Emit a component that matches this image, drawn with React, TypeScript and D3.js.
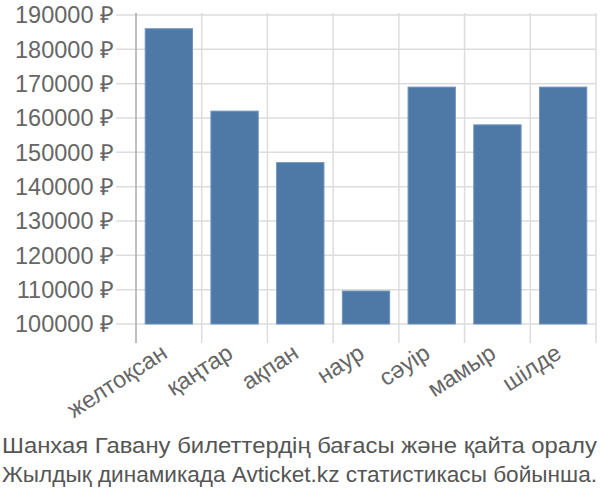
import React from "react";
import * as d3 from "d3";

const categories = ["желтоқсан", "қаңтар", "ақпан", "наур", "сәуір", "мамыр", "шілде"];
const values = [186000, 162000, 147000, 109600, 169000, 158000, 169000];
const yTicks = [100000, 110000, 120000, 130000, 140000, 150000, 160000, 170000, 180000, 190000];
const titleLines = [
  "Шанхая Гавану билеттердің бағасы және қайта оралу",
  "Жылдық динамикада Avticket.kz статистикасы бойынша.",
];

export default function App() {
  const W = 600, H = 500;
  const left = 136, right = 596, top = 15, bottom = 324;
  const x = d3.scaleBand<string>().domain(categories).range([left, right]).paddingInner(0.28).paddingOuter(0.14);
  const y = d3.scaleLinear().domain([100000, 190000]).range([bottom, top]);
  const step = x.step();
  const font = "'Liberation Sans', Arial, sans-serif";
  return (
    <svg width={W} height={H} style={{ position: "absolute", left: 0, top: 0, background: "#fff" }} fontFamily={font}>
      {yTicks.map((t) => (
        <line key={"h" + t} x1={116} x2={right} y1={y(t)} y2={y(t)} stroke="#ddd" strokeWidth={1.5} />
      ))}
      {categories.map((c, i) => (
        <line key={"v" + c} x1={left + step * (i + 1)} x2={left + step * (i + 1)} y1={top - 2} y2={343} stroke="#ddd" strokeWidth={1.5} />
      ))}
      <line x1={left} x2={left} y1={top - 2} y2={343} stroke="#aaa" strokeWidth={1.5} />
      {categories.map((c, i) => (
        <rect key={c} x={x(c)} y={y(values[i])} width={x.bandwidth()} height={bottom - y(values[i])} fill="#4e79a7" stroke="#6f93bd" strokeWidth={1} />
      ))}
      {yTicks.map((t) => (
        <text key={"t" + t} x={114} y={y(t)} dy="0.35em" textAnchor="end" fontSize={23.5} fill="#666">
          {t} ₽
        </text>
      ))}
      {categories.map((c) => {
        const cx = (x(c) as number) + x.bandwidth() / 2 - 9;
        const cy = 343;
        return (
          <text key={"l" + c} x={cx} y={cy} textAnchor="end" fontSize={23.5} fill="#666" transform={`rotate(-33 ${cx} ${cy})`} dy="0.7em">
            {c}
          </text>
        );
      })}
      {titleLines.map((l, i) => (
        <text key={"ti" + i} x={2} y={453 + i * 29} fontSize={22.5} fill="#555" textLength={595} lengthAdjust="spacingAndGlyphs">
          {l}
        </text>
      ))}
    </svg>
  );
}
